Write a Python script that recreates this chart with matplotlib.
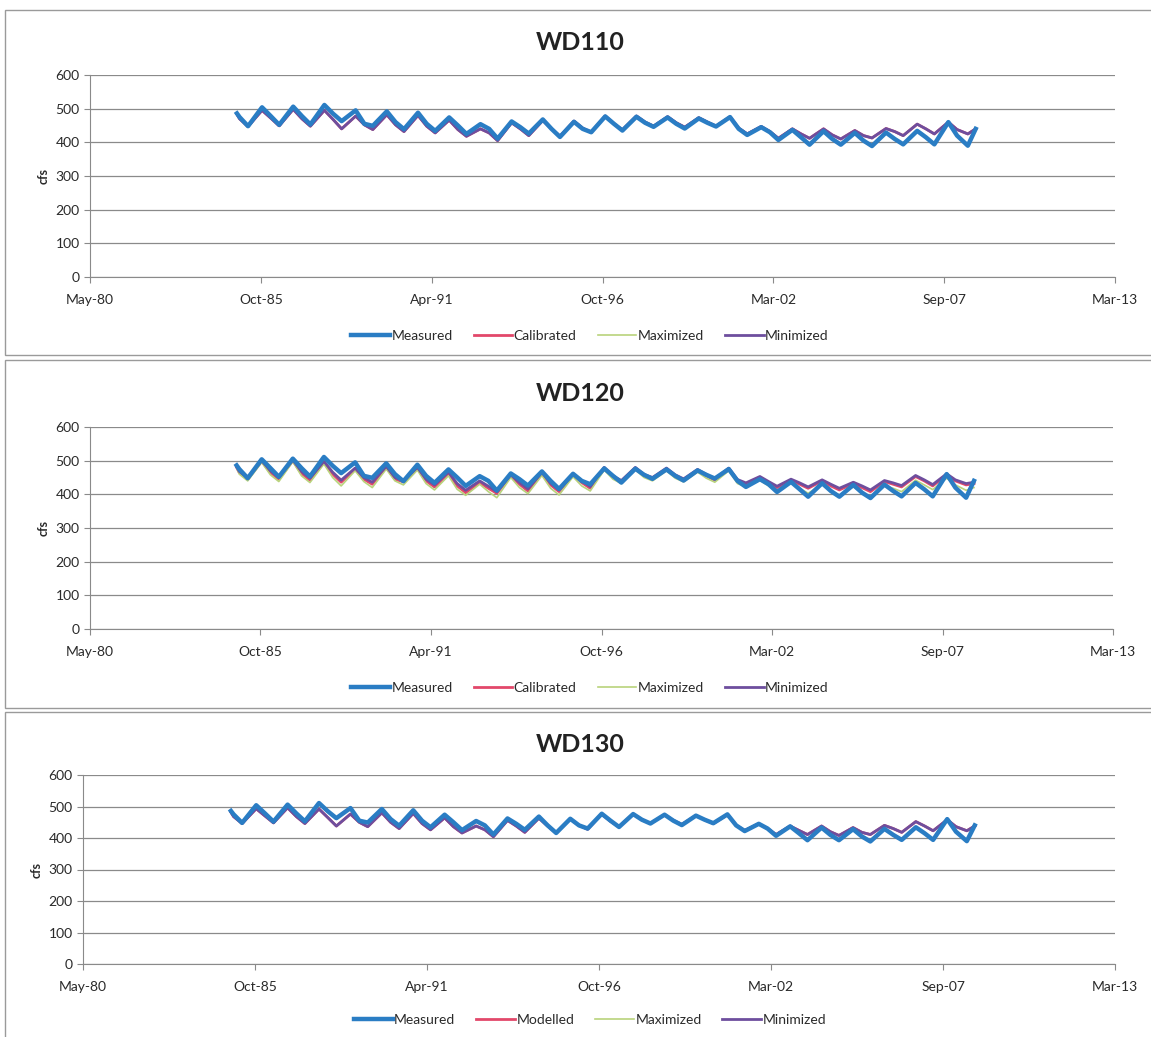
import datetime as dt
import matplotlib
matplotlib.use("Agg")
import matplotlib.pyplot as plt
import matplotlib.dates as mdates
from matplotlib.patches import Rectangle

plt.rcParams["font.family"] = ["Lato", "DejaVu Sans"]

# sample dates (Feb / late-May trough / Nov peak each year)
dates = ["1985-01-15", "1985-02-15", "1985-05-25", "1985-11-05",
         "1986-02-15", "1986-05-25", "1986-11-05",
         "1987-02-15", "1987-05-25", "1987-11-05",
         "1988-02-15", "1988-05-25", "1988-11-05",
         "1989-02-15", "1989-05-25", "1989-11-05",
         "1990-02-15", "1990-05-25", "1990-11-05",
         "1991-02-15", "1991-05-25", "1991-11-05",
         "1992-02-15", "1992-05-25", "1992-11-05",
         "1993-02-15", "1993-05-25", "1993-11-05",
         "1994-02-15", "1994-05-25", "1994-11-05",
         "1995-02-15", "1995-05-25", "1995-11-05",
         "1996-02-15", "1996-05-25", "1996-11-05",
         "1997-02-15", "1997-05-25", "1997-11-05",
         "1998-02-15", "1998-05-25", "1998-11-05",
         "1999-02-15", "1999-05-25", "1999-11-05",
         "2000-02-15", "2000-05-25", "2000-11-05",
         "2001-02-15", "2001-05-25", "2001-11-05",
         "2002-02-15", "2002-05-25", "2002-11-05",
         "2003-02-15", "2003-05-25", "2003-11-05",
         "2004-02-15", "2004-05-25", "2004-11-05",
         "2005-02-15", "2005-05-25", "2005-11-05",
         "2006-02-15", "2006-05-25", "2006-11-05",
         "2007-02-15", "2007-05-25", "2007-11-05",
         "2008-02-15", "2008-06-20", "2008-09-20"]

measured = [486, 475, 448, 504,
            478, 452, 506,
            478, 453, 511,
            485, 463, 495,
            455, 449, 492,
            460, 439, 488,
            455, 434, 474,
            450, 425, 454,
            440, 411, 462,
            445, 426, 468,
            440, 416, 461,
            440, 430, 477,
            455, 435, 476,
            458, 446, 474,
            455, 441, 471,
            458, 447, 475,
            440, 422, 445,
            430, 407, 437,
            415, 393, 433,
            410, 393, 428,
            405, 389, 429,
            410, 394, 434,
            415, 394, 460,
            420, 390, 440]

# WD110
cal1 = [484, 470, 447, 495,
        472, 449, 498,
        470, 448, 495,
        468, 440, 478,
        452, 438, 482,
        452, 432, 480,
        448, 428, 466,
        438, 418, 440,
        428, 405, 458,
        440, 420, 465,
        440, 418, 463,
        442, 430, 478,
        455, 437, 478,
        460, 448, 476,
        458, 445, 473,
        460, 448, 476,
        442, 425, 447,
        432, 412, 440,
        425, 412, 440,
        422, 410, 435,
        420, 413, 441,
        432, 420, 454,
        440, 425, 460,
        438, 425, 440]
max1 = cal1
min1 = cal1

# WD120
cal2 = [480, 465, 445, 498,
        465, 445, 500,
        462, 442, 495,
        460, 436, 475,
        445, 430, 480,
        445, 437, 478,
        440, 422, 462,
        425, 405, 435,
        418, 403, 455,
        430, 410, 462,
        428, 408, 458,
        435, 418, 478,
        452, 438, 478,
        456, 447, 476,
        455, 443, 472,
        456, 442, 476,
        440, 430, 450,
        435, 420, 442,
        430, 418, 440,
        425, 413, 432,
        420, 408, 438,
        430, 422, 453,
        440, 425, 458,
        440, 428, 432]
max2 = [478, 460, 440, 495,
        458, 438, 497,
        455, 435, 490,
        450, 425, 470,
        438, 420, 475,
        440, 428, 472,
        432, 413, 455,
        415, 397, 430,
        408, 390, 450,
        420, 402, 456,
        418, 398, 452,
        425, 410, 472,
        445, 432, 473,
        450, 440, 470,
        448, 437, 466,
        448, 436, 470,
        432, 422, 442,
        425, 408, 435,
        418, 403, 430,
        412, 398, 422,
        405, 388, 425,
        418, 408, 442,
        428, 414, 448,
        428, 412, 420]
min2 = [482, 468, 450, 500,
        470, 450, 502,
        468, 448, 498,
        466, 442, 478,
        450, 436, 483,
        450, 440, 480,
        445, 428, 466,
        432, 412, 440,
        424, 408, 458,
        435, 416, 465,
        433, 413, 461,
        440, 423, 480,
        455, 441, 480,
        459, 450, 478,
        458, 446, 474,
        459, 446, 478,
        444, 434, 453,
        438, 424, 445,
        434, 422, 443,
        430, 418, 436,
        425, 413, 441,
        434, 426, 456,
        443, 429, 461,
        443, 432, 436]

# WD130
cal3 = [482, 468, 446, 493,
        470, 448, 496,
        468, 446, 492,
        465, 438, 476,
        450, 436, 480,
        450, 430, 478,
        446, 426, 464,
        436, 416, 438,
        426, 404, 456,
        438, 418, 463,
        438, 416, 461,
        440, 428, 476,
        453, 436, 476,
        458, 446, 474,
        456, 443, 471,
        458, 446, 474,
        440, 424, 445,
        430, 411, 438,
        424, 411, 438,
        420, 408, 433,
        418, 411, 440,
        430, 418, 452,
        438, 423, 458,
        436, 423, 438]
max3 = cal3
min3 = cal3

titles = ["WD110", "WD120", "WD130"]
labels = [["Measured", "Calibrated", "Maximized", "Minimized"],
          ["Measured", "Calibrated", "Maximized", "Minimized"],
          ["Measured", "Modelled", "Maximized", "Minimized"]]
series = [(cal1, max1, min1), (cal2, max2, min2), (cal3, max3, min3)]

x = [dt.datetime.strptime(d, "%Y-%m-%d") for d in dates]
start = dt.datetime(1980, 5, 1)
ticks = [start + dt.timedelta(days=2000 * k) for k in range(7)]

colors = ["#2A7DC4", "#E2486A", "#B9D37C", "#6E4E9E"]
widths = [3.2, 2.0, 1.2, 2.0]

W, H = 1151, 1037
fig = plt.figure(figsize=(W / 100, H / 100), dpi=100)

# axes boxes in pixels: left, right, y(600), y(0)
boxes = [(90, 1115, 75, 277), (90, 1113, 427, 629), (83, 1115, 775, 964)]
frames = [(10, 355), (360, 708), (712, 1040)]
title_y = [42, 393, 745]
legend_y = [336, 688, 1020]

for i in range(3):
    l, r, t, b = boxes[i]
    ax = fig.add_axes([l / W, 1 - b / H, (r - l) / W, (b - t) / H])
    cal, mx, mn = series[i]
    ax.plot(x, measured, color=colors[0], lw=widths[0], label=labels[i][0], zorder=5)
    ax.plot(x, cal, color=colors[1], lw=widths[1], label=labels[i][1], zorder=3)
    ax.plot(x, mx, color=colors[2], lw=widths[2], label=labels[i][2], zorder=3)
    ax.plot(x, mn, color=colors[3], lw=widths[3], label=labels[i][3], zorder=4)

    ax.set_xlim(ticks[0], ticks[-1])
    ax.set_ylim(0, 600)
    ax.set_yticks(range(0, 601, 100))
    ax.set_xticks(ticks)
    ax.xaxis.set_major_formatter(mdates.DateFormatter("%b-%y"))
    ax.grid(axis="y", color="#8a8a8a", lw=0.9)
    ax.set_axisbelow(True)
    for s in ["top", "right"]:
        ax.spines[s].set_visible(False)
    for s in ["left", "bottom"]:
        ax.spines[s].set_color("#8a8a8a")
    ax.tick_params(axis="both", colors="#8a8a8a", labelcolor="#2a2a2a",
                   labelsize=10, length=4)
    ax.tick_params(axis="x", pad=8)
    ax.set_ylabel("cfs", fontsize=9, fontweight="bold", color="#2a2a2a", labelpad=4)

    fig.text(580 / W, 1 - title_y[i] / H, titles[i], ha="center", va="center",
             fontsize=18, fontweight="bold", color="#222222")
    h, lb = ax.get_legend_handles_labels()
    fig.legend(h, lb, loc="center", bbox_to_anchor=(590 / W, 1 - legend_y[i] / H),
               ncol=4, frameon=False, fontsize=10, handlelength=2.8,
               handletextpad=0.1, columnspacing=1.5, labelcolor="#2a2a2a")

    f0, f1 = frames[i]
    fig.patches.append(Rectangle((5 / W, 1 - f1 / H), (W - 4) / W, (f1 - f0) / H,
                                 transform=fig.transFigure, fill=False,
                                 edgecolor="#9a9a9a", lw=1))

fig.savefig("out.png", dpi=100)
